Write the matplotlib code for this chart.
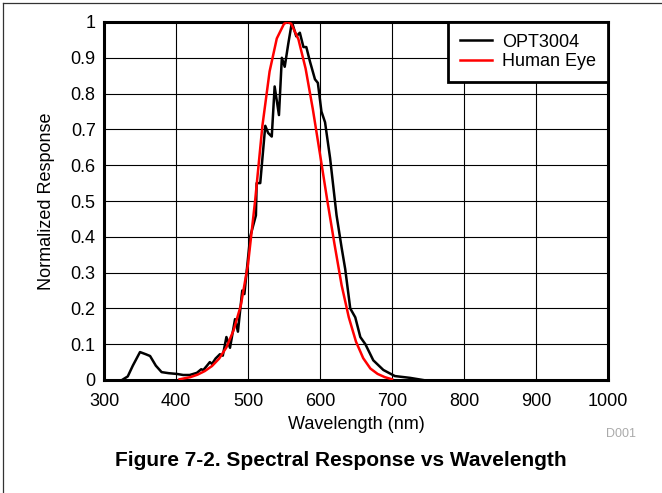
import numpy as np
import matplotlib
matplotlib.use("Agg")
import matplotlib.pyplot as plt
from matplotlib.lines import Line2D
from matplotlib.ticker import FormatStrFormatter

plt.rcParams['font.family'] = ['Liberation Sans', 'DejaVu Sans']

opt_nm = [325, 333, 340, 350, 358, 364, 372, 380, 390, 401, 410, 419, 429, 435, 438,
          443, 447, 450, 455, 461, 465, 470, 475, 482, 486, 492, 495, 503, 511, 512,
          517, 524, 528, 533, 537, 543, 547, 551, 556, 561, 567, 572, 577, 581, 586,
          593, 597, 602, 607, 614, 623, 630, 635, 642, 649, 656, 663, 674, 688, 704,
          725, 743]
opt_val = [0.0, 0.01, 0.04, 0.078, 0.072, 0.067, 0.04, 0.022, 0.019, 0.017, 0.014, 0.014,
           0.02, 0.03, 0.028, 0.04, 0.05, 0.045, 0.06, 0.072, 0.068, 0.12, 0.09, 0.17,
           0.135, 0.25, 0.24, 0.40, 0.46, 0.55, 0.55, 0.71, 0.69, 0.68, 0.82, 0.74, 0.90,
           0.875, 0.94, 1.0, 0.96, 0.97, 0.93, 0.93, 0.89, 0.84, 0.83, 0.75, 0.72, 0.62,
           0.46, 0.37, 0.31, 0.20, 0.175, 0.12, 0.10, 0.055, 0.028, 0.011, 0.006, 0.0]

# human eye (photopic) response
eye_nm = [405, 410, 420, 430, 440, 450, 460, 470, 480, 490, 500, 510, 520, 530, 540,
          550, 555, 560, 570, 580, 590, 600, 610, 620, 630, 640, 650, 660, 670, 680,
          690, 700]
eye_val = [0.002, 0.004, 0.008, 0.015, 0.025, 0.039, 0.06, 0.091, 0.139, 0.208, 0.323,
           0.503, 0.71, 0.862, 0.954, 0.995, 1.0, 0.995, 0.952, 0.87, 0.757, 0.631,
           0.503, 0.381, 0.265, 0.175, 0.107, 0.061, 0.032, 0.017, 0.008, 0.002]

fig = plt.figure(figsize=(6.62, 4.93), dpi=100)
ax = fig.add_axes([104 / 662, 1 - 380 / 493, 504 / 662, 358 / 493])

ax.plot(opt_nm, opt_val, color='black', lw=1.8, label='OPT3004', zorder=3)
ax.plot(eye_nm, eye_val, color='#ff0000', lw=1.8, label='Human Eye', zorder=3)

ax.set_xlim(300, 1000)
ax.set_ylim(0, 1)
ax.set_xticks(np.arange(300, 1001, 100))
ax.set_yticks(np.arange(0, 1.01, 0.1))
ax.yaxis.set_major_formatter(FormatStrFormatter('%g'))
ax.tick_params(length=0, labelsize=13)
ax.tick_params(axis='x', pad=9)
ax.tick_params(axis='y', pad=6)
ax.grid(True, color='black', lw=0.8)
for s in ax.spines.values():
    s.set_linewidth(2.2)

ax.set_xlabel('Wavelength (nm)', fontsize=13, labelpad=5)
ax.set_ylabel('Normalized Response', fontsize=13, labelpad=11)

leg = ax.legend(loc='upper right', fontsize=13, fancybox=False, framealpha=1,
                edgecolor='black', borderaxespad=0, handlelength=1.8,
                borderpad=0.65, labelspacing=0.12, handletextpad=0.55)
leg.get_frame().set_linewidth(2)

fig.text(621 / 662, 1 - 434 / 493, 'D001', fontsize=9, color='#aaaaaa',
         ha='center', va='center')
fig.text(341 / 662, 1 - 461 / 493, 'Figure 7-2. Spectral Response vs Wavelength',
         fontsize=15, fontweight='bold', ha='center', va='center')

# outer frame (top and left edges)
fig.add_artist(Line2D([3 / 662, 3 / 662], [0, 1 - 3 / 493], color='#333333', lw=0.9))
fig.add_artist(Line2D([3 / 662, 1], [1 - 3 / 493, 1 - 3 / 493], color='#333333', lw=0.9))

fig.savefig('out.png', dpi=100)
